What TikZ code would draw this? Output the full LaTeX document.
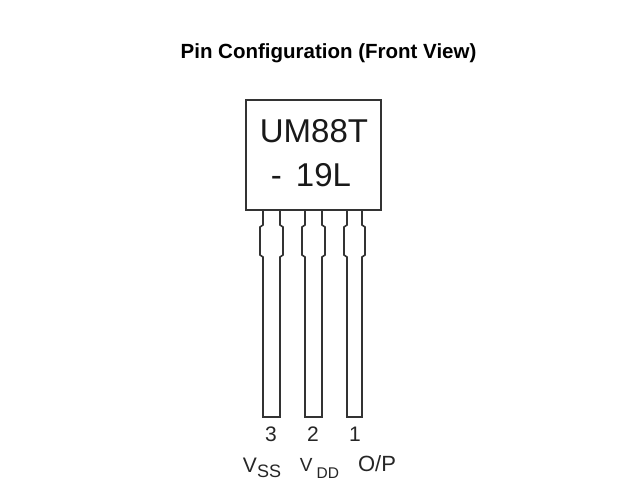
\documentclass[tikz,border=0pt]{standalone}
\usepackage{fontspec}
\setmainfont{Liberation Sans}
\tikzset{
  outline/.style={draw=black!80,line width=1.6pt,line join=miter},
  lbl/.style={inner sep=0pt,text=black!85,anchor=base},
  chip/.style={font=\fontsize{33}{33}\selectfont,inner sep=0pt,text=black!90,anchor=base},
}
\newcommand{\pinshape}[2]{% left, right of the narrow part
  \draw[outline] (#1,209) -- (#1,225) -- (#1-3,227) -- (#1-3,255) -- (#1,257) -- (#1,417) -- (#2,417) -- (#2,257) -- (#2+3,255) -- (#2+3,227) -- (#2,225) -- (#2,209);
}
\begin{document}
\begin{tikzpicture}[x=1pt,y=-1pt]
\useasboundingbox (0,0) rectangle (620,500);
\fill[white] (0,0) rectangle (620,500);
\node[anchor=base,inner sep=0pt,font=\bfseries\fontsize{20.5}{20.5}\selectfont] (title) at (328.5,59) {Pin Configuration (Front View)};
\node[draw=black!80,line width=1.8pt,minimum width=135pt,minimum height=110pt,inner sep=0pt,anchor=north west] (body) at (245,99) {};
\node[chip] (code1) at (314,142) {UM88T};
\node[chip] (code2) at (311,186) {-\hspace{14pt}19L};
\pinshape{263}{280}
\pinshape{305}{322}
\pinshape{347}{362}
\node[lbl,font=\fontsize{21}{21}\selectfont] (n3) at (271,441) {3};
\node[lbl,font=\fontsize{21}{21}\selectfont] (n2) at (313,441) {2};
\node[lbl,font=\fontsize{21}{21}\selectfont] (n1) at (355,441) {1};
\node[lbl,font=\fontsize{21}{21}\selectfont] (vss) at (262,472) {V\raisebox{-5pt}{\fontsize{18}{18}\selectfont SS}};
\node[lbl,font=\fontsize{19}{19}\selectfont] (vdd) at (319.5,471) {V\hspace{4pt}\raisebox{-7pt}{\fontsize{15.5}{15.5}\selectfont DD}};
\node[lbl,font=\fontsize{22}{22}\selectfont] (op) at (377,471) {O/P};
\end{tikzpicture}
\end{document}
